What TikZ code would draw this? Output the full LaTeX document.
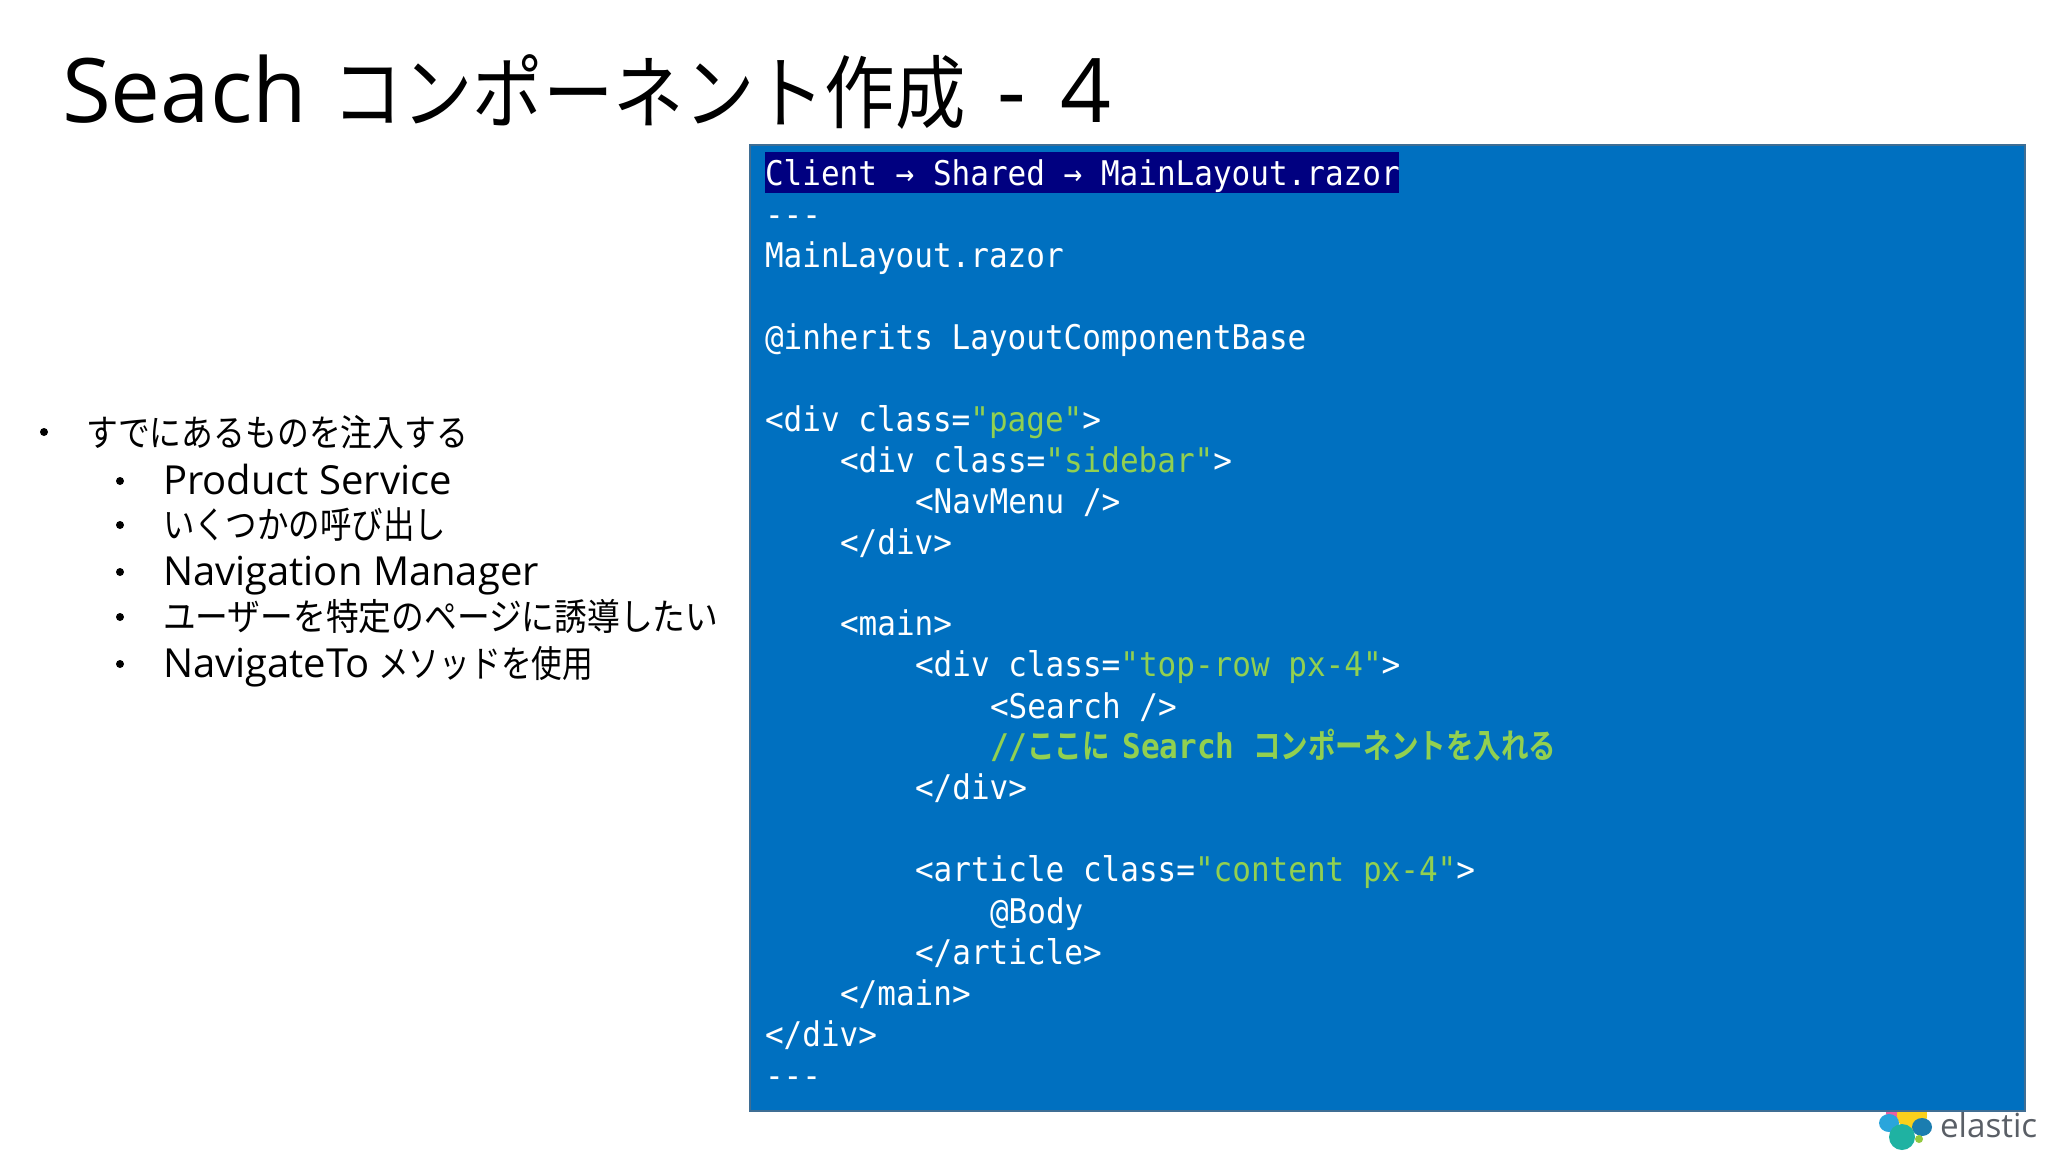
\documentclass[tikz,border=0pt]{standalone}
\usepackage{fontspec}
\setmainfont{Open Sans}
\setmonofont{DejaVu Sans Mono}
\newfontfamily\jpa[FakeStretch=0.88]{Noto Sans CJK JP}
\newfontfamily\jpb[FakeStretch=0.86]{Noto Sans CJK JP}
\newfontfamily\jpd[FakeStretch=0.885]{Noto Sans CJK JP}
\newfontfamily\jpe[FakeStretch=0.85]{Noto Sans CJK JP}
\newfontfamily\jpf[FakeStretch=0.83]{Noto Sans CJK JP}
\newfontfamily\jpc[FakeStretch=0.81]{Noto Sans CJK JP Bold}
\newfontfamily\codefont[FakeStretch=0.912]{DejaVu Sans Mono}
\newfontfamily\codebold[FakeStretch=0.912]{DejaVu Sans Mono Bold}
\definecolor{panelblue}{HTML}{0070C0}
\definecolor{panelline}{HTML}{3F6E94}
\definecolor{hilite}{HTML}{000080}
\definecolor{codegreen}{HTML}{92D050}
\definecolor{logogray}{HTML}{5A5F66}
\definecolor{logopink}{HTML}{EC5FA0}
\definecolor{logoyellow}{HTML}{FBD01C}
\definecolor{logoblue}{HTML}{2AA5DC}
\definecolor{logodark}{HTML}{1B7DB0}
\definecolor{logoteal}{HTML}{1FB2A2}
\definecolor{logogreen}{HTML}{93C83E}
\tikzset{
  txt/.style={anchor=base west,inner sep=0pt,outer sep=0pt},
  codeline/.style={txt,text=white,font=\codefont\fontsize{17}{20}\selectfont},
  bulletitem/.style={txt,text=black,font=\fontsize{20}{24}\selectfont},
  bulletmark/.style={circle,fill=black,inner sep=0pt,minimum size=4pt},
}
\newcommand{\gr}[1]{\textcolor{codegreen}{#1}}
\begin{document}
\begin{tikzpicture}[x=0.5pt,y=-0.5pt]
\useasboundingbox (0,0) rectangle (2048,1152);
\fill[white] (0,0) rectangle (2048,1152);
% logo
\fill[fill=logopink] (1893,1113) circle (7);
\fill[fill=logoyellow] (1912,1115) circle (15);
\fill[fill=logoblue] (1889,1123) ellipse (10 and 9);
\fill[fill=logodark] (1922,1127) ellipse (10 and 9);
\fill[fill=logoteal] (1902,1137) circle (13);
\fill[fill=logogreen] (1919,1139) circle (4);
\node[txt,text=logogray,font=\fontsize{16.6}{20}\selectfont] (logotext) at (1940,1137) {elastic};
% title
\node[txt,text=black,font=\fontsize{44.5}{50}\selectfont] (title) at (62,122) {\makebox[135pt][l]{Seach}\makebox[332.5pt][l]{\jpa\fontsize{40}{50}\selectfont コンポーネント作成}\makebox[32pt][l]{-}4};
% bullets
\node[bulletmark] (b1) at (44,432) {};
\node[bulletmark] (b2) at (120,481) {};
\node[bulletmark] (b3) at (120,525) {};
\node[bulletmark] (b4) at (120,572) {};
\node[bulletmark] (b5) at (120,617) {};
\node[bulletmark] (b6) at (120,664) {};
\node[bulletitem] (t1) at (86,446) {\jpb\fontsize{18.5}{23}\selectfont すでにあるものを注入する};
\node[bulletitem] (t2) at (163,494) {Product Service};
\node[bulletitem] (t3) at (163,538) {\jpe\fontsize{18.5}{23}\selectfont いくつかの呼び出し};
\node[bulletitem] (t4) at (163,585) {Navigation Manager};
\node[bulletitem] (t5) at (163,630) {\jpd\fontsize{18.5}{23}\selectfont ユーザーを特定のページに誘導したい};
\node[bulletitem] (t6) at (163,677) {NavigateTo\hspace{-1pt} {\jpf\fontsize{18.5}{23}\selectfont メソッドを使用}};
% panel
\draw[draw=panelline,line width=0.8pt,fill=panelblue] (750,145) rectangle (2025,1111);
\fill[hilite] (765,152) rectangle (1399,193);
\node[codeline] (c0) at (765,185) {Client → Shared → MainLayout.razor};
\node[codeline] (c1) at (765,226) {-{}-{}-};
\node[codeline] (c2) at (765,267) {MainLayout.razor};
\node[codeline] (c4) at (765,349) {@inherits LayoutComponentBase};
\node[codeline] (c6) at (765,431) {<div class=\gr{"page"}>};
\node[codeline] (c7) at (840,472) {<div class=\gr{"sidebar"}>};
\node[codeline] (c8) at (915,513) {<NavMenu />};
\node[codeline] (c9) at (840,554) {</div>};
\node[codeline] (c11) at (840,635) {<main>};
\node[codeline] (c12) at (915,676) {<div class=\gr{"top-row px-4"}>};
\node[codeline] (c13) at (990,718) {<Search />};
\node[txt,text=codegreen,font=\codebold\fontsize{17}{20}\selectfont] (c14) at (990,758) {//{\jpc\fontsize{17}{20}\selectfont ここに}\hspace{-3pt} Search {\jpc\fontsize{17}{20}\selectfont コンポーネントを入れる}};
\node[codeline] (c15) at (915,799) {</div>};
\node[codeline] (c17) at (915,881) {<article class=\gr{"content px-4"}>};
\node[codeline] (c18) at (990,923) {@Body};
\node[codeline] (c19) at (915,964) {</article>};
\node[codeline] (c20) at (840,1005) {</main>};
\node[codeline] (c21) at (765,1046) {</div>};
\node[codeline] (c22) at (765,1087) {-{}-{}-};
\end{tikzpicture}
\end{document}
